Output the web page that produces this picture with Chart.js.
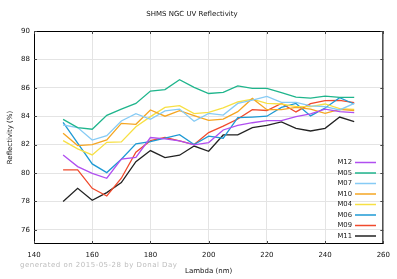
<!DOCTYPE html>
<html>
<head>
<meta charset="utf-8">
<script src="https://cdn.jsdelivr.net/npm/chart.js@4.4.0/dist/chart.umd.min.js"></script>
<style>
  html, body { margin: 0; padding: 0; background: #fff; }
  #wrap { width: 397px; height: 279px; }
</style>
</head>
<body>
<div id="wrap"><canvas id="myChart" width="397" height="279"></canvas></div>
<script>
// wavelengths (nm), 5 nm steps
const lambda = [150, 155, 160, 165, 170, 175, 180, 185, 190, 195, 200,
                205, 210, 215, 220, 225, 230, 235, 240, 245, 250];

const M12 = [81.27, 80.45, 79.98, 79.63, 80.97, 81.1, 82.5, 82.4, 82.26, 81.98, 82.14,
             83.03, 83.36, 83.54, 83.69, 83.69, 83.97, 84.16, 84.5, 84.32, 84.25];
const M05 = [83.78, 83.2, 83.08, 84.06, 84.5, 84.9, 85.77, 85.87, 86.57, 86.03, 85.6,
             85.68, 86.13, 85.96, 85.96, 85.66, 85.35, 85.28, 85.42, 85.33, 85.33];
const M07 = [83.38, 83.2, 82.32, 82.63, 83.66, 84.18, 83.78, 84.37, 84.5, 83.64, 84.2,
             84.08, 84.9, 85.14, 85.4, 84.98, 84.98, 84.72, 84.67, 84.44, 84.9];
const M10 = [82.8, 81.93, 82.0, 82.33, 83.5, 83.43, 84.44, 84.0, 84.39, 84.04, 83.7,
             83.8, 84.32, 85.25, 84.46, 84.46, 84.62, 84.5, 84.2, 84.48, 84.4];
const M04 = [82.28, 81.7, 81.27, 82.16, 82.19, 83.26, 83.97, 84.62, 84.74, 84.18, 84.27,
             84.58, 85.0, 85.2, 84.9, 84.86, 84.67, 84.67, 84.86, 84.53, 84.48];
const M06 = [83.57, 82.1, 80.64, 80.03, 80.97, 82.05, 82.21, 82.45, 82.7, 82.0, 82.6,
             82.45, 83.9, 83.94, 84.0, 84.62, 84.9, 84.02, 84.58, 85.3, 84.86];
const M09 = [80.22, 80.22, 78.92, 78.38, 79.63, 81.46, 82.28, 82.5, 82.26, 82.0, 82.85,
             83.3, 83.8, 84.46, 84.4, 84.9, 84.3, 84.88, 85.1, 85.12, 84.95];
const M11 = [77.99, 78.92, 78.08, 78.62, 79.33, 80.8, 81.58, 81.08, 81.25, 81.9, 81.53,
             82.68, 82.68, 83.2, 83.36, 83.6, 83.15, 82.96, 83.15, 83.94, 83.61];

const seriesNames = ["M12", "M05", "M07", "M10", "M04", "M06", "M09", "M11"];
const seriesData = [M12, M05, M07, M10, M04, M06, M09, M11];
const seriesColors = ["#b04ff0", "#1fb58c", "#86cbf5", "#f5a623",
                      "#f7e044", "#1e9ad4", "#f04a2c", "#222222"];

const yTicks = [76, 78, 80, 82, 84, 86, 88, 90];
const xTicks = [140, 160, 180, 200, 220, 240, 260];

const FONT = "'DejaVu Sans', sans-serif";

const datasets = seriesNames.map((name, i) => ({
  label: name,
  data: lambda.map((x, j) => ({ x: x, y: seriesData[i][j] })),
  borderColor: seriesColors[i],
  backgroundColor: seriesColors[i],
  borderWidth: 1.3,
  pointRadius: 0,
  tension: 0,
}));

// frame, inward ticks, legend and footer (gnuplot look)
const decorations = {
  id: "decorations",
  afterDatasetsDraw(chart) {
    const c = chart.ctx;
    const a = chart.chartArea;
    const xs = chart.scales.x;
    const ys = chart.scales.y;
    c.save();
    c.strokeStyle = "#000";
    c.lineWidth = 1;
    c.strokeRect(a.left + 0.5, a.top + 0.5, a.right - a.left - 1, a.bottom - a.top - 1);
    c.strokeStyle = "#444";
    xTicks.forEach(v => {
      const px = Math.round(xs.getPixelForValue(v)) + 0.5;
      c.beginPath();
      c.moveTo(px, a.top); c.lineTo(px, a.top + 3);
      c.moveTo(px, a.bottom); c.lineTo(px, a.bottom - 3);
      c.stroke();
    });
    yTicks.forEach(v => {
      const py = Math.round(ys.getPixelForValue(v)) + 0.5;
      c.beginPath();
      c.moveTo(a.left, py); c.lineTo(a.left + 3, py);
      c.moveTo(a.right, py); c.lineTo(a.right - 3, py);
      c.stroke();
    });

    // legend
    c.font = "6.8px " + FONT;
    c.textAlign = "right";
    c.textBaseline = "middle";
    seriesNames.forEach((name, i) => {
      const y = 162.5 + i * 10.5;
      c.fillStyle = "#222";
      c.fillText(name, 352, y);
      c.strokeStyle = seriesColors[i];
      c.lineWidth = 1.5;
      c.beginPath();
      c.moveTo(355, y); c.lineTo(376, y);
      c.stroke();
    });

    // footer
    c.font = "7px " + FONT;
    c.letterSpacing = "0.5px";
    c.textAlign = "left";
    c.fillStyle = "#bdbdbd";
    c.fillText("generated on 2015-05-28 by Donal Day", 20, 265);
    c.restore();
  },
};

const ctx = document.getElementById("myChart").getContext("2d");
new Chart(ctx, {
  type: "line",
  data: { datasets: datasets },
  plugins: [decorations],
  options: {
    responsive: false,
    animation: false,
    layout: { padding: { left: 0, right: 13, top: 0, bottom: 0 } },
    plugins: {
      legend: { display: false },
      tooltip: { enabled: false },
      title: {
        display: true,
        text: "SHMS NGC UV Reflectivity",
        color: "#111",
        font: { family: FONT, size: 7, weight: "normal", lineHeight: 1 },
        padding: { top: 11, bottom: 13 },
      },
    },
    scales: {
      x: {
        type: "linear",
        min: 140,
        max: 260,
        afterBuildTicks: s => { s.ticks = xTicks.map(v => ({ value: v })); },
        afterFit: s => { s.height = 35; },
        grid: { color: "#e4e4e4", drawTicks: false },
        border: { display: false },
        ticks: { color: "#111", padding: 7, maxRotation: 0,
                 font: { family: FONT, size: 7 } },
        title: { display: true, text: "Lambda (nm)", color: "#111",
                 font: { family: FONT, size: 7, lineHeight: 1 },
                 padding: { top: 0, bottom: 4.5 } },
      },
      y: {
        min: 75,
        max: 90,
        afterBuildTicks: s => { s.ticks = yTicks.map(v => ({ value: v })); },
        afterFit: s => { s.width = 34; },
        grid: { color: "#e4e4e4", drawTicks: false },
        border: { display: false },
        ticks: { color: "#111", padding: 4,
                 font: { family: FONT, size: 7 } },
        title: { display: true, text: "Reflectivity (%)", color: "#111",
                 font: { family: FONT, size: 7, lineHeight: 1 },
                 padding: { top: 6.5, bottom: 0 } },
      },
    },
  },
});
</script>
</body>
</html>
